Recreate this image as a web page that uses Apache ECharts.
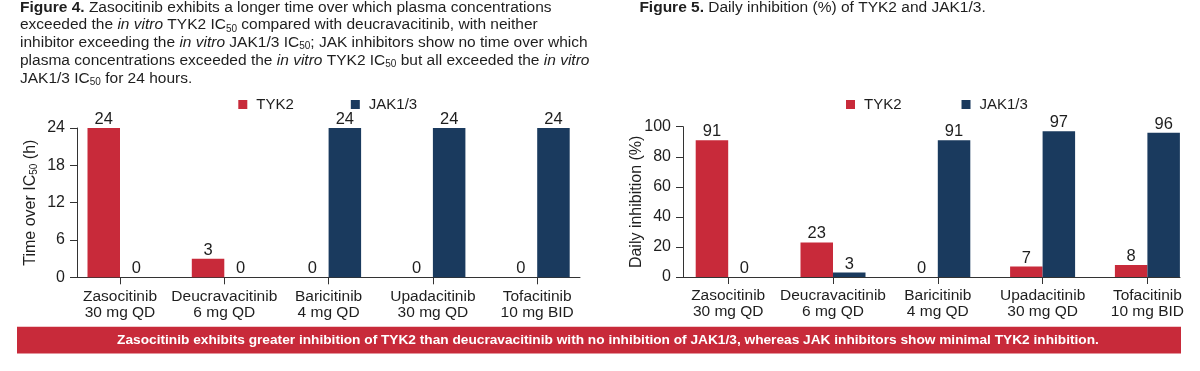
<!DOCTYPE html>
<html>
<head>
<meta charset="utf-8">
<script src="https://cdn.jsdelivr.net/npm/echarts@6/dist/echarts.min.js"></script>
<style>
html,body{margin:0;padding:0;background:#fff;}
#chart{width:1200px;height:371px;}
</style>
</head>
<body>
<div id="chart"></div>
<script>
// ---- data ----
const categories = ['Zasocitinib\n30 mg QD', 'Deucravacitinib\n6 mg QD', 'Baricitinib\n4 mg QD', 'Upadacitinib\n30 mg QD', 'Tofacitinib\n10 mg BID'];
const seriesNames = ['TYK2', 'JAK1/3'];
const timeTYK2 = [24, 3, 0, 0, 0];
const timeJAK = [0, 0, 24, 24, 24];
const inhTYK2 = [91, 23, 0, 7, 8];
const inhJAK = [0, 3, 91, 97, 96];
const timeAxis = {min: 0, max: 24, interval: 6};
const inhAxis = {min: 0, max: 100, interval: 20};

const RED = '#c82a3a';
const NAVY = '#1a3a5e';
const TXT = '#1e1e1e';
const FONT = '"Liberation Sans", Arial, sans-serif';

const chart = echarts.init(document.getElementById('chart'), null, {renderer: 'canvas'});

function catAxis(grid) {
  return {
    type: 'category', gridIndex: grid, data: categories,
    axisLine: {show: false},
    axisTick: {show: true, alignWithLabel: true, length: 7, lineStyle: {color: '#333', width: 1}},
    axisLabel: {fontFamily: FONT, fontSize: 15.5, color: TXT, lineHeight: 16, margin: 11, interval: 0}
  };
}
function lineAxis(grid) {
  return {
    type: 'value', gridIndex: grid, min: 0, max: 1,
    axisLine: {show: true, lineStyle: {color: '#333', width: 1}},
    axisTick: {show: false}, axisLabel: {show: false}, splitLine: {show: false}
  };
}
function hiddenY(grid, ax) {
  return {type: 'value', gridIndex: grid, min: ax.min, max: ax.max, interval: ax.interval, show: false, splitLine: {show: false}};
}
function visY(grid, ax, name, gap) {
  return {
    type: 'value', gridIndex: grid, min: ax.min, max: ax.max, interval: ax.interval,
    name: name, nameLocation: 'middle', nameRotate: 90, nameGap: gap, nameMoveOverlap: false,
    nameTextStyle: {fontFamily: FONT, fontSize: 16, color: TXT,
      rich: {s: {fontFamily: FONT, fontSize: 10, color: TXT, verticalAlign: 'bottom', lineHeight: 11}}},
    axisLine: {show: true, lineStyle: {color: '#333', width: 1}},
    axisTick: {show: true, length: 7, lineStyle: {color: '#333', width: 1}},
    axisLabel: {fontFamily: FONT, fontSize: 16, color: TXT, margin: 12},
    splitLine: {show: false}
  };
}
function bar(name, color, data, ax) {
  return {
    type: 'bar', name: name, data: data, xAxisIndex: ax, yAxisIndex: ax,
    barWidth: 32.5, barGap: '0%',
    itemStyle: {color: color},
    label: {show: true, position: 'top', distance: 0, fontFamily: FONT, fontSize: 16.5, color: TXT},
    emphasis: {disabled: true}
  };
}
function legend(left, gap) {
  return {
    data: seriesNames, left: left, top: 97, padding: 0, icon: 'rect', itemWidth: 9, itemHeight: 9, itemGap: gap,
    textStyle: {fontFamily: FONT, fontSize: 15, color: TXT, padding: [0, 0, 0, 4]}, selectedMode: false
  };
}

const richTitle = {
  b: {fontFamily: FONT, fontSize: 15.5, fontWeight: 'bold', fill: TXT, color: TXT, lineHeight: 17.75},
  i: {fontFamily: FONT, fontSize: 15.5, fontStyle: 'italic', fill: TXT, color: TXT, lineHeight: 17.75},
  s: {fontFamily: FONT, fontSize: 10, fill: TXT, color: TXT, verticalAlign: 'bottom', lineHeight: 13}
};

const fig4 = [
  '{b|Figure 4.} Zasocitinib exhibits a longer time over which plasma concentrations',
  'exceeded the {i|in vitro} TYK2 IC{s|50} compared with deucravacitinib, with neither',
  'inhibitor exceeding the {i|in vitro} JAK1/3 IC{s|50}; JAK inhibitors show no time over which',
  'plasma concentrations exceeded the {i|in vitro} TYK2 IC{s|50} but all exceeded the {i|in vitro}',
  'JAK1/3 IC{s|50} for 24 hours.'
].join('\n');
const fig5 = '{b|Figure 5.} Daily inhibition (%) of TYK2 and JAK1/3.';
const banner = 'Zasocitinib exhibits greater inhibition of TYK2 than deucravacitinib with no inhibition of JAK1/3, whereas JAK inhibitors show minimal TYK2 inhibition.';

const option = {
  animation: false,
  backgroundColor: '#fff',
  legend: [legend(238.3, 57), legend(846, 60)],
  grid: [
    {left: 67.85, top: 128, width: 521.5, height: 149.3},
    {left: 77, top: 128, width: 503, height: 149.3},
    {left: 675.8, top: 126.7, width: 524, height: 150.3},
    {left: 683, top: 126.7, width: 497, height: 150.3}
  ],
  xAxis: [catAxis(0), lineAxis(1), catAxis(2), lineAxis(3)],
  yAxis: [
    hiddenY(0, timeAxis),
    visY(1, timeAxis, 'Time over IC{s|50} (h)', 38),
    hiddenY(2, inhAxis),
    visY(3, inhAxis, 'Daily inhibition (%)', 38)
  ],
  series: [
    bar('TYK2', RED, timeTYK2, 0),
    bar('JAK1/3', NAVY, timeJAK, 0),
    bar('TYK2', RED, inhTYK2, 2),
    bar('JAK1/3', NAVY, inhJAK, 2)
  ],
  graphic: [
    {type: 'text', left: 20, top: -1.6, style: {text: fig4, rich: richTitle, fontFamily: FONT, fontSize: 15.5, fill: TXT, lineHeight: 17.75}},
    {type: 'text', left: 639.4, top: -1.6, style: {text: fig5, rich: richTitle, fontFamily: FONT, fontSize: 15.5, fill: TXT, lineHeight: 17.75}},
    {type: 'rect', shape: {x: 17, y: 326.7, width: 1164, height: 26.8}, style: {fill: RED}, z: 10},
    {type: 'text', x: 608, y: 340.2, z: 11, style: {text: banner, fontFamily: FONT, fontSize: 13.7, fontWeight: 'bold', fill: '#fff', align: 'center', verticalAlign: 'middle'}}
  ]
};
chart.setOption(option);
</script>
</body>
</html>
